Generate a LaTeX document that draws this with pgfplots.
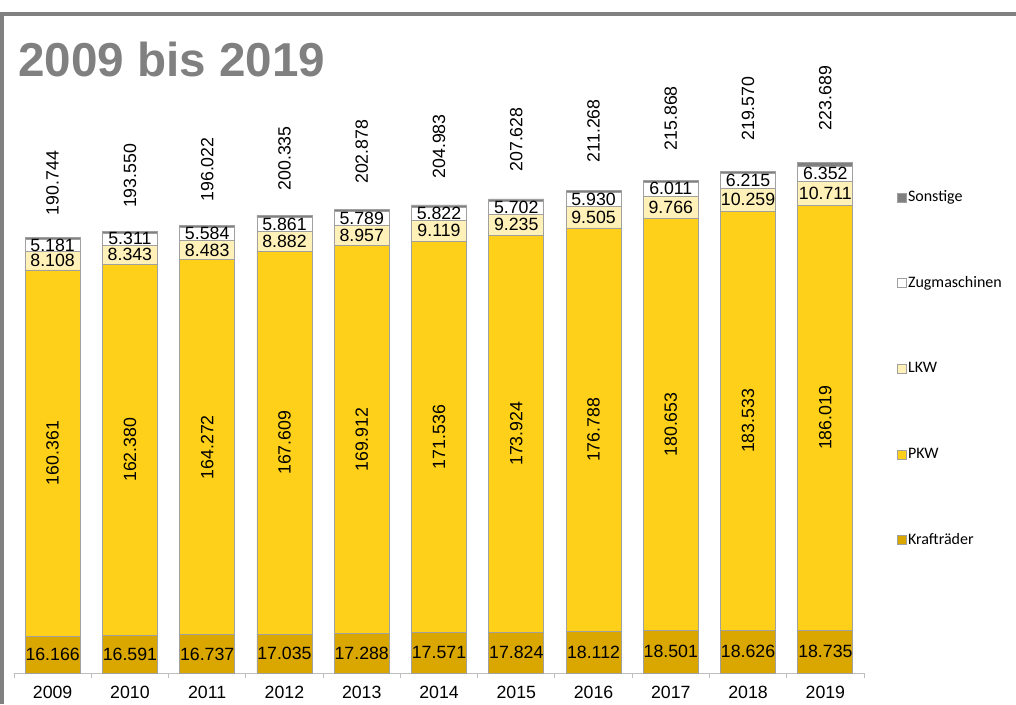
\documentclass[border=0pt]{standalone}
\usepackage{pgfplots}
\pgfplotsset{compat=1.18}
\usepackage{pgfplotstable}
\usepackage{fontspec}
\setmainfont{Liberation Sans}
\newfontfamily\legfont{Carlito}
\definecolor{kr}{RGB}{218,166,0}
\definecolor{pkw}{RGB}{254,208,26}
\definecolor{lkw}{RGB}{255,241,184}
\definecolor{son}{RGB}{128,128,128}
\definecolor{bord}{RGB}{160,160,160}
\definecolor{frm}{RGB}{128,128,128}
\definecolor{axl}{RGB}{190,190,190}

\pgfplotstableread{
X K P L Z S T
0 16166 160361 8108 5181 928 190744
1 16591 162380 8343 5311 925 193550
2 16737 164272 8483 5584 946 196022
3 17035 167609 8882 5861 948 200335
4 17288 169912 8957 5789 932 202878
5 17571 171536 9119 5822 935 204983
6 17824 173924 9235 5702 943 207628
7 18112 176788 9505 5930 933 211268
8 18501 180653 9766 6011 937 215868
9 18626 183533 10259 6215 937 219570
10 18735 186019 10711 6352 1872 223689
}\data

\pgfplotsset{
  base/.style={
    at={(10.5pt,23.25pt)}, anchor=south west, scale only axis,
    width=637.5pt, height=411pt,
    xmin=-0.5, xmax=10.5, ymin=0, ymax=240000,
  },
  lbl/.style={
    nodes near coords={\pgfmathprintnumber[assume math mode=true,1000 sep={.},fixed,precision=0]{\pgfplotspointmeta}},
    point meta=explicit,
    only marks, mark=none,
  }
}

\begin{document}
\begin{tikzpicture}
\useasboundingbox (0pt,0pt) rectangle (762pt,528pt);
\fill[white] (0pt,0pt) rectangle (762pt,528pt);
\draw[frm, line width=3pt] (1.5pt,0pt) -- (1.5pt,517.5pt) -- (762pt,517.5pt);
\node[anchor=base west, inner sep=0, text=frm, font=\fontsize{35.7}{40}\selectfont\bfseries] at (13.5pt,470.25pt) {2009 bis 2019};

\begin{axis}[base,
  ybar stacked, bar width=41.25pt,
  axis x line*=bottom, axis y line=none,
  x axis line style={draw=axl, line width=0.75pt},
  xtick={0,...,10},
  xticklabels={2009,2010,2011,2012,2013,2014,2015,2016,2017,2018,2019},
  major tick length=0pt,
  minor xtick={-0.5,0.5,1.5,2.5,3.5,4.5,5.5,6.5,7.5,8.5,9.5,10.5},
  minor tick length=3.75pt,
  tick align=outside,
  minor tick style={draw=axl, line width=0.75pt},
  xticklabel style={font=\fontsize{13.3}{16}\selectfont, yshift=-6pt},
  reverse legend,
  legend cell align=left,
  legend style={at={(1.0385,0.885)}, anchor=north west, draw=none, fill=none,
    font=\legfont\fontsize{12}{14}\selectfont, row sep=50.25pt, inner sep=0pt,
    nodes={inner sep=1pt, text height=9pt, text depth=3pt},
    /tikz/every even column/.append style={column sep=1pt}},
  legend image code/.code={\draw[#1, draw=bord, line width=0.5pt] (0pt,-3.4pt) rectangle (6.8pt,3.4pt);},
]
\addplot[fill=kr, draw=bord, line width=0.6pt] table[x=X,y=K]{\data};
\addplot[fill=pkw, draw=bord, line width=0.6pt] table[x=X,y=P]{\data};
\addplot[fill=lkw, draw=bord, line width=0.6pt] table[x=X,y=L]{\data};
\addplot[fill=white, draw=bord, line width=0.6pt] table[x=X,y=Z]{\data};
\addplot[fill=son, draw=bord, line width=0.6pt] table[x=X,y=S]{\data};
\legend{Krafträder,PKW,LKW,Zugmaschinen,Sonstige}
\end{axis}

\begin{axis}[base, hide axis,
  every node near coord/.append style={font=\fontsize{13.3}{16}\selectfont, inner sep=0pt, text=black}]
\addplot[lbl, nodes near coords align={anchor=center}] table[x=X, y expr=\thisrow{K}/2, meta=K]{\data};
\addplot[lbl, nodes near coords align={anchor=center}, every node near coord/.append style={rotate=90}] table[x=X, y expr=\thisrow{K}+\thisrow{P}/2, meta=P]{\data};
\addplot[lbl, nodes near coords align={anchor=center}] table[x=X, y expr=\thisrow{K}+\thisrow{P}+\thisrow{L}/2, meta=L]{\data};
\addplot[lbl, nodes near coords align={anchor=center}] table[x=X, y expr=\thisrow{K}+\thisrow{P}+\thisrow{L}+\thisrow{Z}/2+200, meta=Z]{\data};
\addplot[lbl, nodes near coords align={anchor=west}, every node near coord/.append style={rotate=90}] table[x=X, y expr=\thisrow{T}*1.132-15540, meta=T]{\data};
\end{axis}
\end{tikzpicture}
\end{document}
